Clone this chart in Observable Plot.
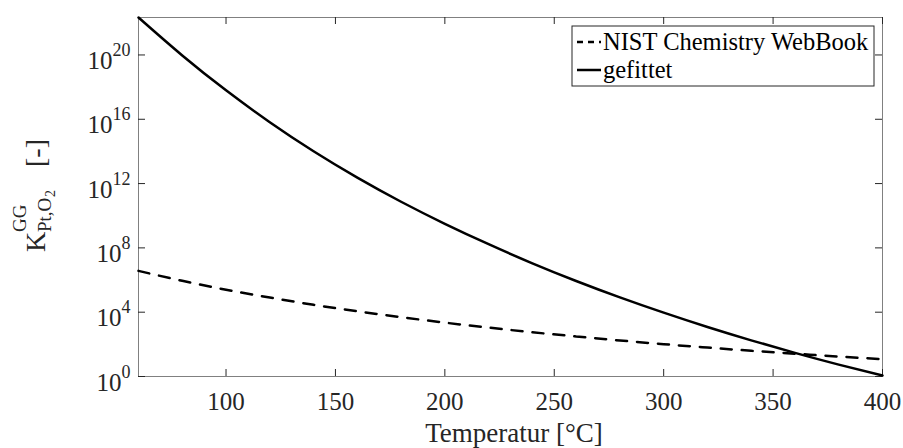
<!DOCTYPE html>
<html><head><meta charset="utf-8">
<script src="https://cdn.jsdelivr.net/npm/d3@7"></script>
<script src="https://cdn.jsdelivr.net/npm/@observablehq/plot@0.6"></script>
<style>body{margin:0;background:#fff}#chart{width:903px;height:448px}</style>
</head><body><div id="chart"></div>
<script>
// Temperature [°C]
const temperature = [60, 80, 100, 120, 140, 160, 180, 200, 220, 240, 260, 280, 300, 320, 340, 360, 380, 400];
// log10 of K
const log10K_NIST = [6.57, 5.95, 5.40, 4.91, 4.46, 4.06, 3.69, 3.35, 3.04, 2.75, 2.49, 2.24, 2.01, 1.80, 1.60, 1.42, 1.24, 1.08];
const log10K_fit  = [22.33, 19.97, 17.80, 15.82, 14.01, 12.37, 10.87, 9.50, 8.23, 7.04, 5.94, 4.92, 3.97, 3.08, 2.25, 1.47, 0.74, 0.06];
const seriesNames = ["NIST Chemistry WebBook", "gefittet"];
const xTicks = [100, 150, 200, 250, 300, 350, 400];
const yTickExponents = [0, 4, 8, 12, 16, 20];
const xLabel = "Temperatur [°C]";

const nist = temperature.map((t, i) => ({T: t, K: 10 ** log10K_NIST[i]}));
const fit = temperature.map((t, i) => ({T: t, K: 10 ** log10K_fit[i]}));
const yTicks = yTickExponents.map(e => 10 ** e);

const W = 903, H = 448, mL = 138, mR = 21, mT = 17, mB = 72;
const innerW = W - mL - mR, innerH = H - mT - mB;
const font = "'Liberation Serif', 'Times New Roman', serif";
const axisColor = "#262626";

const plot = Plot.plot({
  width: W, height: H,
  marginLeft: mL, marginRight: mR, marginTop: mT, marginBottom: mB,
  style: {fontFamily: font, fontSize: "25px", color: axisColor, background: "white", overflow: "visible"},
  x: {domain: [60, 400], ticks: xTicks, tickSize: 0, tickPadding: 16, label: null},
  y: {type: "log", domain: [1, 10 ** 22.33], ticks: yTicks, tickSize: 0, tickPadding: 8, label: null,
      tickFormat: d => "10^" + Math.round(Math.log10(d))},
  marks: [
    Plot.frame({stroke: "#808080", strokeWidth: 1}),
    Plot.tickX(xTicks, {x: d => d, insetTop: innerH - 7, stroke: axisColor}),
    Plot.tickX(xTicks, {x: d => d, insetBottom: innerH - 7, stroke: axisColor}),
    Plot.tickY(yTicks, {y: d => d, insetRight: innerW - 7, stroke: axisColor}),
    Plot.tickY(yTicks, {y: d => d, insetLeft: innerW - 7, stroke: axisColor}),
    Plot.line(nist, {x: "T", y: "K", stroke: "black", strokeWidth: 2.5, strokeDasharray: "11,10", curve: "natural"}),
    Plot.line(fit, {x: "T", y: "K", stroke: "black", strokeWidth: 2.5, curve: "natural"})
  ]
});

const svg = d3.select(plot);
// superscript tick labels
svg.selectAll('g[aria-label="y-axis tick label"] text').each(function () {
  const [b, e] = this.textContent.split("^");
  const s = d3.select(this);
  s.text(null).attr("y", null).attr("dy", null);
  s.append("tspan").attr("dy", 14).text(b);
  s.append("tspan").attr("dy", -13).attr("font-size", 18).text(e);
});

// x label
svg.append("text").attr("x", mL + innerW / 2 + 4).attr("y", 442).attr("text-anchor", "middle")
  .attr("font-family", font).attr("font-size", 27).attr("fill", axisColor).text(xLabel);

// y label K^{GG}_{Pt,O_2} [-]
const yl = svg.append("text").attr("transform", "translate(45,252) rotate(-90)").attr("text-anchor", "start")
  .attr("font-family", font).attr("font-size", 28).attr("fill", axisColor);
yl.append("tspan").attr("x", 0).attr("y", 0).text("K");
yl.append("tspan").attr("x", 20).attr("y", -19).attr("font-size", 19).text("GG");
yl.append("tspan").attr("x", 20).attr("y", 6).attr("font-size", 19).text("Pt,O");
yl.append("tspan").attr("x", 55).attr("y", 10).attr("font-size", 14).text("2");
yl.append("tspan").attr("x", 85).attr("y", 0).text("[-]");

// legend
const lg = svg.append("g").attr("text-anchor", "start");
lg.append("rect").attr("x", 572).attr("y", 26).attr("width", 302).attr("height", 60)
  .attr("fill", "white").attr("stroke", "#262626").attr("stroke-width", 1);
lg.append("line").attr("x1", 577).attr("x2", 601).attr("y1", 42).attr("y2", 42)
  .attr("stroke", "black").attr("stroke-width", 2.5).attr("stroke-dasharray", "6,5");
lg.append("line").attr("x1", 577).attr("x2", 601).attr("y1", 70).attr("y2", 70)
  .attr("stroke", "black").attr("stroke-width", 2.5);
lg.append("text").attr("x", 603).attr("y", 50).attr("font-family", font).attr("font-size", 24.5).attr("fill", "black").text(seriesNames[0]);
lg.append("text").attr("x", 603).attr("y", 78).attr("font-family", font).attr("font-size", 24.5).attr("fill", "black").text(seriesNames[1]);

document.getElementById("chart").appendChild(plot);
</script>
</body></html>
